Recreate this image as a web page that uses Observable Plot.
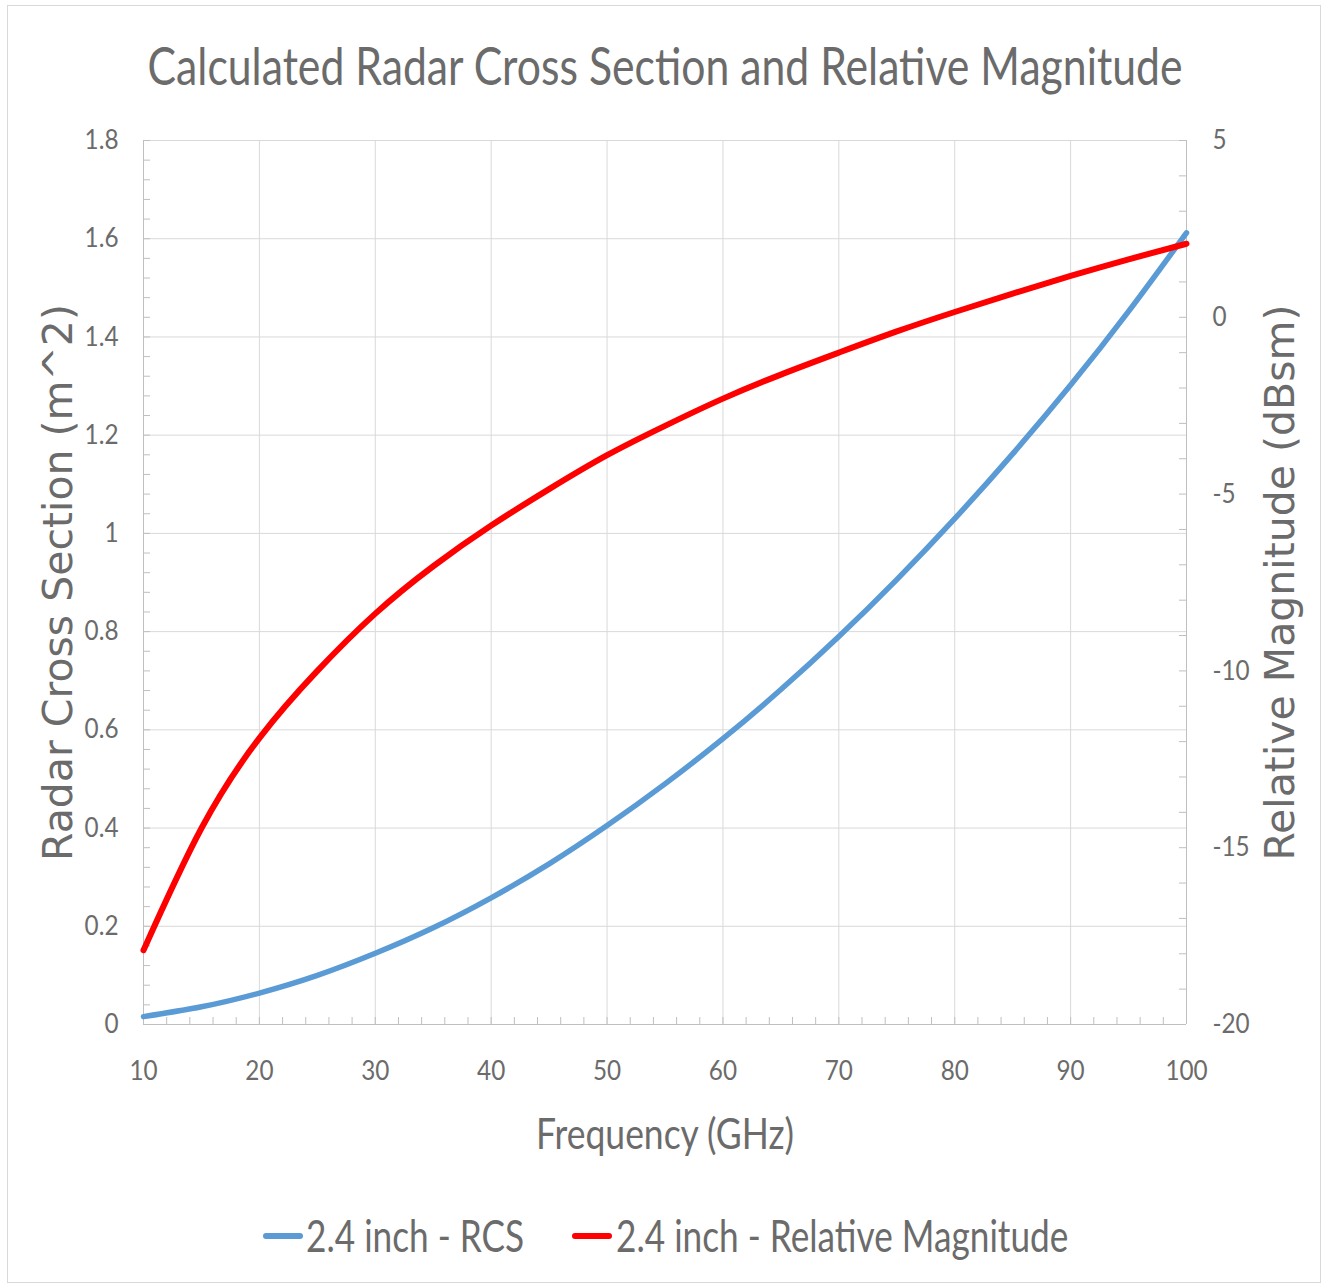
<!DOCTYPE html>
<html>
<head>
<meta charset="utf-8">
<script src="https://cdn.jsdelivr.net/npm/d3@7"></script>
<script src="https://cdn.jsdelivr.net/npm/@observablehq/plot@0.6"></script>
<style>
  body { margin: 0; background: #fff; }
  .narrow { font-family: Lato, "Liberation Sans", sans-serif; color: #6b6b6b; }
  #frame { position: absolute; left: 7px; top: 5px; width: 1314px; height: 1278px; border: 1px solid #d9d9d9; box-sizing: border-box; }
  #title { position: absolute; left: 0; top: 38px; width: 1330px; text-align: center; font-size: 53px; line-height: 53px; white-space: nowrap; }
  #title span { display: inline-block; transform: scaleX(0.806); transform-origin: center; }
  #chart { position: absolute; left: 0; top: 100px; }
  .sw { position: absolute; height: 6px; width: 40px; border-radius: 3px; top: 1233px; }
  .lt { position: absolute; top: 1212px; font-size: 44px; line-height: 46px; white-space: nowrap; transform: scaleX(0.8); transform-origin: left center; }
</style>
</head>
<body>
<div id="frame"></div>
<div id="title" class="narrow"><span>Calculated Radar Cross Section and Relative Magnitude</span></div>
<div id="chart"></div>
<div id="legend" class="narrow"></div>
<script>
// ---- Data ----
const frequency = [10, 15, 20, 25, 30, 35, 40, 45, 50, 55, 60, 65, 70, 75, 80, 85, 90, 95, 100];
const rcs = [0.016, 0.036, 0.064, 0.100, 0.145, 0.197, 0.258, 0.327, 0.405, 0.490, 0.582, 0.682, 0.790, 0.906, 1.030, 1.162, 1.302, 1.452, 1.612];
const relMag = [-17.9, -14.45, -11.9, -10.0, -8.38, -7.04, -5.89, -4.86, -3.9, -3.07, -2.3, -1.62, -1.0, -0.4, 0.15, 0.67, 1.17, 1.64, 2.08];

const seriesNames = ["2.4 inch - RCS", "2.4 inch - Relative Magnitude"];
const seriesColors = ["#5b9bd5", "#ff0000"];

const xTicks = [10, 20, 30, 40, 50, 60, 70, 80, 90, 100];
const yTicks = [0, 0.2, 0.4, 0.6, 0.8, 1, 1.2, 1.4, 1.6, 1.8];
const yTickLabels = ["0", "0.2", "0.4", "0.6", "0.8", "1", "1.2", "1.4", "1.6", "1.8"];
const y2Ticks = [5, 0, -5, -10, -15, -20];

const xMinor = d3.range(10, 100.001, 2);
const yMinor = d3.range(0, 1.8001, 0.04);
const y2Minor = d3.range(-20, 5.001, 1);

// secondary axis (dBsm) mapped onto primary (m^2) domain
const y2Domain = [-20, 5];
const yDomain = [0, 1.8];
const toPrimary = v => (v - y2Domain[0]) / (y2Domain[1] - y2Domain[0]) * (yDomain[1] - yDomain[0]) + yDomain[0];
const fromPrimary = v => (v - yDomain[0]) / (yDomain[1] - yDomain[0]) * (y2Domain[1] - y2Domain[0]) + y2Domain[0];

const rcsData = frequency.map((f, i) => ({f, v: rcs[i]}));
const magData = frequency.map((f, i) => ({f, v: toPrimary(relMag[i])}));

const W = 1327, H = 1070;
const mL = 143, mR = 141, mT = 40, mB = 146;
const frameW = W - mL - mR, frameH = H - mT - mB;
const gridColor = "#d9d9d9";
const axisColor = "#bfbfbf";
const textColor = "#6b6b6b";
const narrow = 'Lato, "Liberation Sans", sans-serif';

const chart = Plot.plot({
  width: W,
  height: H,
  marginLeft: mL,
  marginRight: mR,
  marginTop: mT,
  marginBottom: mB,
  x: {domain: [10, 100], label: null},
  y: {domain: yDomain, label: null},
  style: {fontFamily: narrow, color: textColor, background: "transparent"},
  marks: [
    Plot.gridX(xTicks, {stroke: gridColor, strokeOpacity: 1}),
    Plot.gridY(yTicks, {stroke: gridColor, strokeOpacity: 1}),
    Plot.ruleX([10, 100], {stroke: axisColor}),
    Plot.ruleY([0], {stroke: axisColor}),
    Plot.tickX(xMinor, {stroke: axisColor, insetTop: frameH - 7}),
    Plot.tickY(yMinor, {stroke: axisColor, insetRight: frameW - 7}),
    Plot.tickY(y2Minor.map(toPrimary), {stroke: axisColor, insetLeft: frameW - 7}),
    Plot.axisX(xTicks, {tickSize: 0, tickPadding: 36, fontSize: 27, fill: textColor}),
    Plot.axisY(yTicks, {anchor: "left", tickSize: 0, tickPadding: 25, fontSize: 27, fill: textColor,
      tickFormat: d => yTickLabels[yTicks.indexOf(d)]}),
    Plot.axisY(y2Ticks.map(toPrimary), {anchor: "right", tickSize: 0, tickPadding: 26, fontSize: 27, fill: textColor,
      tickFormat: d => String(Math.round(fromPrimary(d)))}),
    Plot.lineY(rcsData, {x: "f", y: "v", stroke: seriesColors[0], strokeWidth: 5.5, curve: "natural"}),
    Plot.lineY(magData, {x: "f", y: "v", stroke: seriesColors[1], strokeWidth: 6, curve: "natural"}),
    Plot.text(["Radar Cross Section (m^2)"], {frameAnchor: "left", dx: -85, rotate: -90, fontSize: 41,
      fontFamily: "DejaVu Sans", fill: textColor, textAnchor: "middle", lineAnchor: "middle"}),
    Plot.text(["Relative Magnitude (dBsm)"], {frameAnchor: "right", dx: 94, rotate: -90, fontSize: 41,
      fontFamily: "DejaVu Sans", fill: textColor, textAnchor: "middle", lineAnchor: "middle"}),
    Plot.text(["Frequency (GHz)"], {frameAnchor: "bottom", dy: 111, fontSize: 42, fill: textColor,
      textAnchor: "middle", lineAnchor: "middle"})
  ]
});
document.getElementById("chart").appendChild(chart);

// condense texts horizontally around their anchor (Calibri-like proportions)
function condense(sel, k) {
  sel.each(function () {
    const t = this.getAttribute("transform");
    if (t) {
      this.setAttribute("transform", t + ` scale(${k},1)`);
    } else {
      const x = +this.getAttribute("x") || 0, y = +this.getAttribute("y") || 0;
      this.setAttribute("transform", `translate(${x},${y}) scale(${k},1) translate(${-x},${-y})`);
    }
  });
}
condense(d3.select(chart).selectAll("text").filter(function () { return this.textContent === "Frequency (GHz)"; }), 0.845);
condense(d3.select(chart).selectAll('g[aria-label$="tick label"] text'), 0.9);

const legend = document.getElementById("legend");
const swatchLeft = [263, 572];
const textLeft = [306, 616];
seriesNames.forEach((name, i) => {
  const sw = document.createElement("div");
  sw.className = "sw";
  sw.style.left = swatchLeft[i] + "px";
  sw.style.background = seriesColors[i];
  const label = document.createElement("div");
  label.className = "lt";
  label.style.left = textLeft[i] + "px";
  label.textContent = name;
  legend.appendChild(sw);
  legend.appendChild(label);
});
</script>
</body>
</html>
